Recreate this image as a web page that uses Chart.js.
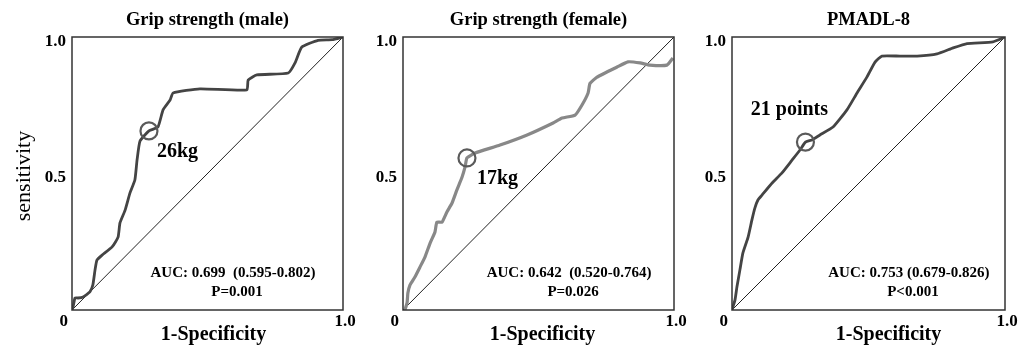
<!DOCTYPE html>
<html>
<head>
<meta charset="utf-8">
<script src="https://cdn.jsdelivr.net/npm/chart.js@4.4.1/dist/chart.umd.min.js"></script>
<style>
    html, body { margin: 0; padding: 0; background: #fff; }
    #wrap { position: relative; width: 1023px; height: 350px; overflow: hidden; }
    .panel { position: absolute; top: 0; }
</style>
</head>
<body>
<div id="wrap">
    <canvas id="c1" class="panel" width="360" height="350" style="left:0"></canvas>
    <canvas id="c2" class="panel" width="330" height="350" style="left:360px"></canvas>
    <canvas id="c3" class="panel" width="333" height="350" style="left:690px"></canvas>
</div>
<script>
"use strict";

// ROC curves (1-specificity, sensitivity)
const maleX = [0, 0.004, 0.011, 0.022, 0.041, 0.066, 0.077, 0.085, 0.092, 0.111, 0.148, 0.17, 0.177, 0.196, 0.214, 0.232, 0.24, 0.251, 0.284, 0.317, 0.336, 0.362, 0.373, 0.472, 0.645, 0.65, 0.682, 0.798, 0.823, 0.848, 0.908, 0.96, 1.0];
const maleY = [0, 0.011, 0.044, 0.044, 0.048, 0.066, 0.092, 0.147, 0.183, 0.201, 0.231, 0.267, 0.319, 0.366, 0.429, 0.476, 0.549, 0.619, 0.656, 0.67, 0.733, 0.769, 0.795, 0.81, 0.806, 0.842, 0.861, 0.868, 0.905, 0.963, 0.988, 0.99, 1.0];

const femaleX = [0.007, 0.015, 0.018, 0.026, 0.044, 0.063, 0.081, 0.1, 0.118, 0.125, 0.144, 0.162, 0.181, 0.199, 0.218, 0.229, 0.236, 0.266, 0.358, 0.458, 0.554, 0.587, 0.635, 0.66, 0.683, 0.69, 0.716, 0.79, 0.83, 0.875, 0.911, 0.974, 0.996];
const femaleY = [0, 0.026, 0.062, 0.092, 0.121, 0.158, 0.194, 0.245, 0.286, 0.322, 0.322, 0.359, 0.392, 0.44, 0.487, 0.524, 0.557, 0.575, 0.604, 0.641, 0.685, 0.703, 0.714, 0.75, 0.795, 0.83, 0.853, 0.89, 0.909, 0.905, 0.897, 0.897, 0.923];

const pmadlX = [0, 0.011, 0.018, 0.029, 0.04, 0.059, 0.073, 0.084, 0.095, 0.11, 0.147, 0.183, 0.22, 0.249, 0.269, 0.293, 0.322, 0.37, 0.421, 0.458, 0.494, 0.524, 0.549, 0.615, 0.678, 0.751, 0.81, 0.861, 0.956, 1.0];
const pmadlY = [0, 0.037, 0.084, 0.147, 0.209, 0.267, 0.33, 0.374, 0.403, 0.421, 0.465, 0.502, 0.549, 0.586, 0.615, 0.623, 0.641, 0.67, 0.733, 0.795, 0.853, 0.908, 0.93, 0.93, 0.93, 0.938, 0.96, 0.976, 0.982, 1.0];

// cut-off points [x, y]
const cutoffs = [[0.284, 0.656], [0.236, 0.557], [0.269, 0.615]];
const cutoffLabels = ["26kg", "17kg", "21 points"];
const titles = ["Grip strength (male)", "Grip strength (female)", "PMADL-8"];
const aucLabels = ["AUC: 0.699  (0.595-0.802)", "AUC: 0.642  (0.520-0.764)", "AUC: 0.753 (0.679-0.826)"];
const pLabels = ["P=0.001", "P=0.026", "P<0.001"];
const xTickLabels = ["0", "1.0"];
const yTickLabels = ["0.5", "1.0"];

const SERIF = '"Liberation Serif", "Times New Roman", serif';

const panels = [
    { id: "c1", xs: maleX, ys: maleY, color: "#444", width: 2.8, pad: { left: 72, right: 17 },
      labelDx: 8, labelDy: 21, labelAlign: "left", aucX: 0.594, xTitleDx: 6, yTitle: true },
    { id: "c2", xs: femaleX, ys: femaleY, color: "#888", width: 3.2, pad: { left: 43, right: 16 },
      labelDx: 10, labelDy: 21, labelAlign: "left", aucX: 0.613, xTitleDx: 4, yTitle: false },
    { id: "c3", xs: pmadlX, ys: pmadlY, color: "#444", width: 2.8, pad: { left: 42, right: 18 },
      labelDx: -16, labelDy: -32, labelAlign: "center", aucX: 0.648, xTitleDx: 20, yTitle: false }
];

function toPoints(xs, ys) {
    return xs.map((x, i) => ({ x: x, y: ys[i] }));
}

// frame, tick labels, titles and notes
const textPlugin = {
    id: "rocText",
    afterDraw(chart) {
        const p = chart.options.plugins.rocText;
        const { ctx, chartArea: a, scales: { x, y } } = chart;
        ctx.save();

        ctx.strokeStyle = "#333";
        ctx.lineWidth = 1.5;
        ctx.strokeRect(a.left, a.top, a.right - a.left, a.bottom - a.top);

        ctx.fillStyle = "#000";
        ctx.textBaseline = "middle";

        ctx.font = "bold 18.5px " + SERIF;
        ctx.textAlign = "center";
        ctx.fillText(titles[p.idx], (a.left + a.right) / 2, 20);

        ctx.font = "bold 17px " + SERIF;
        ctx.textAlign = "right";
        ctx.fillText(yTickLabels[0], a.left - 6, y.getPixelForValue(0.5) + 4);
        ctx.fillText(yTickLabels[1], a.left - 6, y.getPixelForValue(1) + 5);
        ctx.fillText(xTickLabels[0], a.left - 4, 322);
        ctx.textAlign = "center";
        ctx.fillText(xTickLabels[1], x.getPixelForValue(1) + 2, 322);

        ctx.font = "bold 20px " + SERIF;
        ctx.fillText("1-Specificity", (a.left + a.right) / 2 + p.xTitleDx, 335);

        if (p.yTitle) {
            ctx.save();
            ctx.translate(24, 176);
            ctx.rotate(-Math.PI / 2);
            ctx.font = "22px " + SERIF;
            ctx.fillText("sensitivity", 0, 0);
            ctx.restore();
        }

        ctx.font = "bold 15px " + SERIF;
        ctx.textAlign = "center";
        ctx.fillText(aucLabels[p.idx], x.getPixelForValue(p.aucX), y.getPixelForValue(0.135));
        ctx.fillText(pLabels[p.idx], x.getPixelForValue(p.aucX) + 4, y.getPixelForValue(0.066));

        const c = cutoffs[p.idx];
        ctx.font = "bold 20px " + SERIF;
        ctx.textAlign = p.labelAlign;
        ctx.fillText(cutoffLabels[p.idx], x.getPixelForValue(c[0]) + p.labelDx, y.getPixelForValue(c[1]) + p.labelDy);

        ctx.restore();
    }
};

panels.forEach((p, idx) => {
    new Chart(document.getElementById(p.id), {
        type: "scatter",
        data: {
            datasets: [
                {
                    data: [{ x: cutoffs[idx][0], y: cutoffs[idx][1] }],
                    showLine: false,
                    pointRadius: 8.5,
                    pointBorderWidth: 2.2,
                    pointBorderColor: "#5a5a5a",
                    pointBackgroundColor: "rgba(0,0,0,0)"
                },
                {
                    data: toPoints(p.xs, p.ys),
                    showLine: true,
                    borderColor: p.color,
                    borderWidth: p.width,
                    pointRadius: 0,
                    tension: 0.15
                },
                {
                    data: [{ x: 0, y: 0 }, { x: 1, y: 1 }],
                    showLine: true,
                    borderColor: "#222",
                    borderWidth: 1,
                    pointRadius: 0
                }
            ]
        },
        options: {
            responsive: false,
            animation: false,
            events: [],
            layout: { padding: { left: p.pad.left, right: p.pad.right, top: 37, bottom: 40 } },
            scales: {
                x: { type: "linear", min: 0, max: 1, display: false },
                y: { type: "linear", min: 0, max: 1, display: false }
            },
            plugins: {
                legend: { display: false },
                tooltip: { enabled: false },
                rocText: Object.assign({ idx: idx }, p)
            }
        },
        plugins: [textPlugin]
    });
});
</script>
</body>
</html>
